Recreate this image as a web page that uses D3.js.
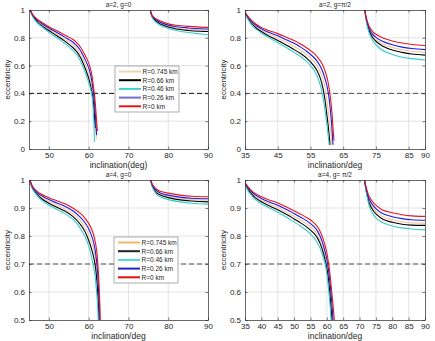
<!DOCTYPE html>
<html>
<head>
<meta charset="utf-8">
<script src="https://cdn.jsdelivr.net/npm/d3@7"></script>
<style>
  body { margin: 0; background: #fff; }
  svg { display: block; font-family: "Liberation Sans", Arial, sans-serif; }
</style>
</head>
<body>
<div id="container"></div>
<script>
/* DATA */
const seriesNames = ["R=0.745 km", "R=0.66 km", "R=0.46 km", "R=0.26 km", "R=0 km"];
const titles = ["a=2, g=0", "a=2, g=\u03c0/2", "a=4, g=0", "a=4, g= \u03c0/2"];
const xLabels = ["inclination(deg)", "inclination/deg", "inclination/deg", "inclination/deg"];
const yLabel = "eccentricity";
const dashLevels = [0.4, 0.4, 0.7, 0.7];

const xTicksLeft = [50, 60, 70, 80, 90];
const xTicksTR = [35, 45, 55, 65, 75, 85, 90];
const xTicksBR = [35, 40, 45, 50, 55, 60, 65, 70, 75, 80, 85, 90];
const yTicksTop = [0, 0.2, 0.4, 0.6, 0.8, 1];
const yTicksBottom = [0.5, 0.6, 0.7, 0.8, 0.9, 1];

// [inclination, eccentricity] per series, order as seriesNames
// a=2, g=0
const a2g0Left = [
  [[45.3,1],[46,0.957],[47,0.922],[48,0.9],[50,0.86],[52,0.825],[54,0.79],[56,0.75],[57,0.722],[58,0.68],[59,0.62],[60,0.55],[60.6,0.48],[61,0.41],[61.3,0.33],[61.6,0.22],[61.8,0.14],[61.9,0.07]],
  [[45.3,1],[46,0.954],[47,0.917],[48,0.89],[50,0.852],[52,0.815],[54,0.776],[56,0.73],[57,0.7],[58,0.655],[59,0.59],[60,0.51],[60.6,0.44],[61,0.38],[61.3,0.3],[61.5,0.22],[61.65,0.15]],
  [[45.3,1],[46,0.95],[47,0.91],[48,0.885],[50,0.84],[52,0.8],[54,0.76],[56,0.71],[57,0.68],[58,0.63],[59,0.56],[60,0.48],[60.5,0.43],[60.9,0.37],[61.1,0.3],[61.3,0.2],[61.4,0.12],[61.45,0.05]],
  [[45.3,1],[46,0.961],[47,0.929],[48,0.907],[50,0.87],[52,0.838],[54,0.805],[56,0.77],[57,0.743],[58,0.705],[59,0.65],[60,0.585],[60.6,0.52],[61,0.45],[61.3,0.38],[61.6,0.28],[61.8,0.19],[62,0.1]],
  [[45.3,1],[46,0.965],[47,0.935],[48,0.915],[50,0.88],[52,0.85],[54,0.82],[56,0.79],[57,0.765],[58,0.73],[59,0.68],[60,0.62],[60.7,0.55],[61.2,0.45],[61.5,0.38],[61.8,0.28],[62,0.2],[62.2,0.13]]
];
const a2g0Right = [
  [[75.5,1],[75.8,0.964],[76.3,0.94],[77,0.922],[78,0.905],[80,0.884],[82,0.871],[85,0.861],[88,0.856],[90,0.853]],
  [[75.5,1],[75.8,0.962],[76.3,0.936],[77,0.917],[78,0.899],[80,0.877],[82,0.863],[85,0.853],[88,0.847],[90,0.845]],
  [[75.5,1],[75.8,0.96],[76.3,0.93],[77,0.91],[78,0.89],[80,0.867],[82,0.852],[85,0.838],[88,0.828],[90,0.822]],
  [[75.5,1],[75.8,0.967],[76.3,0.945],[77,0.928],[78,0.912],[80,0.891],[82,0.88],[85,0.871],[88,0.865],[90,0.863]],
  [[75.5,1],[75.8,0.97],[76.3,0.95],[77,0.935],[78,0.92],[80,0.9],[82,0.89],[85,0.882],[88,0.877],[90,0.875]]
];
// a=2, g=pi/2
const a2g90Left = [
  [[35,0.98],[36,0.94],[37,0.91],[38,0.888],[40,0.855],[42,0.83],[45,0.797],[48,0.762],[50,0.737],[52,0.71],[54,0.675],[56,0.63],[57,0.6],[58,0.555],[59,0.49],[59.6,0.42],[60.2,0.32],[60.7,0.22],[61.2,0.12],[61.6,0.03]],
  [[35,0.978],[36,0.935],[37,0.902],[38,0.878],[40,0.845],[42,0.817],[45,0.781],[48,0.743],[50,0.715],[52,0.687],[54,0.65],[56,0.6],[57,0.565],[58,0.51],[58.8,0.44],[59.4,0.36],[59.9,0.27],[60.4,0.17],[60.8,0.08],[61,0.03]],
  [[35,0.975],[36,0.93],[37,0.895],[38,0.87],[40,0.835],[42,0.805],[45,0.765],[48,0.725],[50,0.695],[52,0.665],[54,0.625],[55,0.6],[56,0.57],[57,0.525],[58,0.46],[58.5,0.41],[59,0.35],[59.5,0.27],[60,0.18],[60.4,0.1],[60.7,0.03]],
  [[35,0.982],[36,0.945],[37,0.917],[38,0.896],[40,0.865],[42,0.842],[45,0.814],[48,0.782],[50,0.76],[52,0.733],[54,0.7],[56,0.66],[57,0.632],[58,0.595],[59,0.54],[60,0.46],[60.6,0.38],[61,0.3],[61.4,0.2],[61.7,0.1],[61.9,0.03]],
  [[35,0.985],[36,0.95],[37,0.925],[38,0.905],[40,0.875],[42,0.855],[45,0.83],[48,0.8],[50,0.78],[52,0.755],[54,0.725],[56,0.69],[57,0.665],[58,0.635],[59,0.59],[60,0.52],[60.7,0.44],[61.2,0.35],[61.6,0.25],[61.9,0.15],[62.2,0.06]]
];
const a2g90Right = [
  [[71.6,1],[72,0.94],[72.5,0.893],[73,0.857],[74,0.814],[75,0.789],[77,0.758],[80,0.731],[83,0.714],[86,0.703],[90,0.695]],
  [[71.6,1],[72,0.937],[72.5,0.885],[73,0.847],[74,0.802],[75,0.775],[77,0.741],[80,0.712],[83,0.695],[86,0.683],[90,0.675]],
  [[71.6,1],[72,0.93],[72.5,0.87],[73,0.83],[74,0.78],[75,0.75],[77,0.71],[80,0.68],[83,0.66],[86,0.65],[90,0.64]],
  [[71.6,1],[72,0.945],[72.5,0.9],[73,0.866],[74,0.826],[75,0.803],[77,0.775],[80,0.75],[83,0.733],[86,0.723],[90,0.715]],
  [[71.6,1],[72,0.95],[72.5,0.91],[73,0.88],[74,0.845],[75,0.825],[77,0.8],[80,0.777],[83,0.762],[86,0.752],[90,0.745]]
];
// a=4, g=0
const a4g0Left = [
  [[45.2,1],[46,0.97],[47,0.952],[48,0.94],[50,0.923],[52,0.91],[54,0.897],[56,0.88],[58,0.853],[59,0.833],[60,0.805],[61,0.765],[61.6,0.73],[62,0.69],[62.3,0.64],[62.5,0.58],[62.65,0.5]],
  [[45.2,1],[46,0.968],[47,0.949],[48,0.935],[50,0.917],[52,0.903],[54,0.889],[56,0.87],[58,0.84],[59,0.818],[60,0.785],[61,0.74],[61.6,0.7],[62,0.65],[62.3,0.59],[62.5,0.53],[62.55,0.5]],
  [[45.2,1],[46,0.965],[47,0.945],[48,0.93],[50,0.91],[52,0.895],[54,0.88],[56,0.86],[57,0.845],[58,0.825],[59,0.8],[60,0.765],[60.8,0.72],[61.5,0.67],[62,0.6],[62.3,0.54],[62.4,0.5]],
  [[45.2,1],[46,0.972],[47,0.956],[48,0.945],[50,0.93],[52,0.918],[54,0.906],[56,0.89],[58,0.866],[59,0.849],[60,0.826],[61,0.79],[61.5,0.76],[62,0.71],[62.3,0.66],[62.5,0.6],[62.7,0.55],[62.8,0.5]],
  [[45.2,1],[46,0.975],[47,0.96],[48,0.95],[50,0.937],[52,0.926],[54,0.915],[56,0.9],[58,0.88],[59,0.865],[60,0.845],[61,0.815],[61.5,0.79],[62,0.75],[62.3,0.7],[62.6,0.63],[62.8,0.56],[62.9,0.5]]
];
const a4g0Right = [
  [[75.6,1],[76,0.98],[76.5,0.968],[77,0.959],[78,0.95],[80,0.942],[83,0.934],[86,0.93],[90,0.928]],
  [[75.6,1],[76,0.978],[76.5,0.965],[77,0.955],[78,0.946],[80,0.937],[83,0.929],[86,0.925],[90,0.922]],
  [[75.6,1],[76,0.975],[76.5,0.96],[77,0.95],[78,0.94],[80,0.93],[83,0.922],[86,0.917],[90,0.914]],
  [[75.6,1],[76,0.982],[76.5,0.971],[77,0.963],[78,0.954],[80,0.946],[83,0.939],[86,0.935],[90,0.933]],
  [[75.6,1],[76,0.985],[76.5,0.975],[77,0.968],[78,0.96],[80,0.953],[83,0.946],[86,0.942],[90,0.94]]
];
// a=4, g=pi/2
const a4g90Left = [
  [[35,0.988],[36,0.968],[37,0.954],[38,0.943],[40,0.928],[42,0.917],[45,0.902],[48,0.884],[50,0.87],[52,0.857],[54,0.842],[56,0.822],[57,0.807],[58,0.785],[59,0.75],[60,0.7],[60.5,0.66],[61,0.605],[61.5,0.535],[61.7,0.5]],
  [[35,0.987],[36,0.965],[37,0.95],[38,0.938],[40,0.922],[42,0.91],[45,0.894],[48,0.875],[50,0.861],[52,0.847],[54,0.831],[56,0.81],[57,0.795],[58,0.772],[59,0.737],[60,0.685],[60.5,0.645],[61,0.585],[61.4,0.525],[61.55,0.5]],
  [[35,0.985],[36,0.96],[37,0.945],[38,0.932],[40,0.915],[42,0.903],[45,0.885],[48,0.865],[50,0.85],[52,0.835],[54,0.818],[55,0.807],[56,0.795],[57,0.778],[58,0.755],[59,0.72],[59.5,0.7],[60,0.665],[60.5,0.615],[61,0.55],[61.3,0.5]],
  [[35,0.989],[36,0.971],[37,0.958],[38,0.948],[40,0.934],[42,0.923],[45,0.91],[48,0.893],[50,0.88],[52,0.867],[54,0.853],[56,0.834],[57,0.82],[58,0.798],[59,0.765],[60,0.717],[60.5,0.68],[61,0.63],[61.5,0.565],[61.9,0.5]],
  [[35,0.99],[36,0.975],[37,0.962],[38,0.953],[40,0.94],[42,0.93],[45,0.918],[48,0.902],[50,0.89],[52,0.878],[54,0.865],[56,0.848],[57,0.835],[58,0.815],[59,0.785],[60,0.74],[60.5,0.705],[61,0.66],[61.5,0.6],[62,0.54],[62.3,0.5]]
];
const a4g90Right = [
  [[71.5,1],[72,0.967],[72.5,0.942],[73,0.923],[74,0.902],[75,0.888],[77,0.87],[80,0.858],[83,0.851],[86,0.847],[90,0.846]],
  [[71.5,1],[72,0.964],[72.5,0.937],[73,0.916],[74,0.894],[75,0.879],[77,0.861],[80,0.849],[83,0.842],[86,0.839],[90,0.838]],
  [[71.5,1],[72,0.96],[72.5,0.93],[73,0.905],[74,0.88],[75,0.865],[77,0.848],[80,0.836],[83,0.829],[86,0.825],[90,0.822]],
  [[71.5,1],[72,0.97],[72.5,0.947],[73,0.93],[74,0.911],[75,0.898],[77,0.88],[80,0.869],[83,0.862],[86,0.858],[90,0.856]],
  [[71.5,1],[72,0.975],[72.5,0.955],[73,0.94],[74,0.922],[75,0.91],[77,0.893],[80,0.883],[83,0.876],[86,0.872],[90,0.87]]
];

/* STYLE */
const colors = ["#f3c89c", "#000000", "#36cccc", "#1a1ae6", "#e6141e"];
const legendColorsTop = ["#f3d3b0", "#000000", "#40d0d0", "#6f6fd6", "#e6141e"];
const legendColorsBottom = ["#f0b868", "#222222", "#55d6d6", "#2020c8", "#e01010"];
const width = 435, height = 341;
const axisColor = "#262626";

const panels = [
  { left: 29, right: 208, top: 10, bottom: 149, xDomain: [45, 90], yDomain: [0, 1],
    xTicks: xTicksLeft, yTicks: yTicksTop, branches: [a2g0Left, a2g0Right],
    dashColor: "#111", legend: { x: 115, y: 66, colors: legendColorsTop } },
  { left: 245, right: 425, top: 10, bottom: 149, xDomain: [35, 90], yDomain: [0, 1],
    xTicks: xTicksTR, yTicks: yTicksTop, branches: [a2g90Left, a2g90Right],
    dashColor: "#555", legend: null },
  { left: 29, right: 208, top: 180, bottom: 320, xDomain: [45, 90], yDomain: [0.5, 1],
    xTicks: xTicksLeft, yTicks: yTicksBottom, branches: [a4g0Left, a4g0Right],
    dashColor: "#555", legend: { x: 114, y: 237, colors: legendColorsBottom } },
  { left: 245, right: 425, top: 180, bottom: 320, xDomain: [35, 90], yDomain: [0.5, 1],
    xTicks: xTicksBR, yTicks: yTicksBottom, branches: [a4g90Left, a4g90Right],
    dashColor: "#555", legend: null }
];

const svg = d3.select("#container")
  .append("svg")
  .attr("width", width)
  .attr("height", height)

panels.forEach((p, i) => {
  const x = d3.scaleLinear().domain(p.xDomain).range([p.left, p.right]);
  const y = d3.scaleLinear().domain(p.yDomain).range([p.bottom, p.top]);
  const g = svg.append("g");

  // clip for curves
  g.append("clipPath").attr("id", "clip" + i)
    .append("rect")
    .attr("x", p.left).attr("y", p.top)
    .attr("width", p.right - p.left).attr("height", p.bottom - p.top);

  // grid
  g.append("g").selectAll("line").data(p.xTicks.filter(d => d > p.xDomain[0] && d < p.xDomain[1]))
    .join("line")
    .attr("x1", d => x(d)).attr("x2", d => x(d))
    .attr("y1", p.top).attr("y2", p.bottom)
    .attr("stroke", "#dcdcdc").attr("stroke-width", 0.8);
  g.append("g").selectAll("line").data(p.yTicks.filter(d => d > p.yDomain[0] && d < p.yDomain[1]))
    .join("line")
    .attr("x1", p.left).attr("x2", p.right)
    .attr("y1", d => y(d)).attr("y2", d => y(d))
    .attr("stroke", "#dcdcdc").attr("stroke-width", 0.8);

  // dashed reference line
  g.append("line")
    .attr("x1", p.left).attr("x2", p.right)
    .attr("y1", y(dashLevels[i])).attr("y2", y(dashLevels[i]))
    .attr("stroke", p.dashColor).attr("stroke-width", 1)
    .attr("stroke-dasharray", "5,3");

  // curves
  const line = d3.line()
    .x(d => x(d[0])).y(d => y(d[1]))
    .curve(d3.curveCatmullRom.alpha(0.5));
  const curves = g.append("g").attr("clip-path", `url(#clip${i})`);
  p.branches.forEach(branch => {
    curves.selectAll(null).data(branch)
      .join("path")
      .attr("d", line)
      .attr("fill", "none")
      .attr("stroke", (d, k) => colors[k])
      .attr("stroke-width", 1.1);
  });

  // axes (ticks pointing inward)
  g.append("g")
    .attr("transform", `translate(0,${p.bottom})`)
    .call(d3.axisBottom(x).tickValues(p.xTicks).tickFormat(d3.format("d")).tickSizeInner(-2.5).tickSizeOuter(0).tickPadding(3));
  g.append("g")
    .attr("transform", `translate(${p.left},0)`)
    .call(d3.axisLeft(y).tickValues(p.yTicks).tickFormat(d => d3.format("")(+d.toFixed(1))).tickSizeInner(-2.5).tickSizeOuter(0).tickPadding(4));
  g.append("g")
    .attr("transform", `translate(0,${p.top})`)
    .call(d3.axisTop(x).tickValues(p.xTicks).tickFormat("").tickSizeInner(-2.5).tickSizeOuter(0));
  g.append("g")
    .attr("transform", `translate(${p.right},0)`)
    .call(d3.axisRight(y).tickValues(p.yTicks).tickFormat("").tickSizeInner(-2.5).tickSizeOuter(0));

  g.selectAll(".domain").attr("stroke", axisColor).attr("stroke-width", 0.7);
  g.selectAll(".tick line").attr("stroke", axisColor).attr("stroke-width", 0.6);
  g.selectAll(".tick text").attr("fill", axisColor).attr("font-size", 8)
    .attr("font-family", "'Liberation Sans', Arial, sans-serif");

  // labels
  const cx = (p.left + p.right) / 2;
  g.append("text")
    .attr("x", cx).attr("y", p.top - 3)
    .attr("text-anchor", "middle")
    .attr("font-size", 6.5).attr("fill", axisColor)
    .text(titles[i]);
  g.append("text")
    .attr("x", cx).attr("y", p.bottom + 18.5)
    .attr("text-anchor", "middle")
    .attr("font-size", 8.5).attr("fill", axisColor)
    .text(xLabels[i]);
  g.append("text")
    .attr("transform", `translate(${p.left - 19},${(p.top + p.bottom) / 2})rotate(-90)`)
    .attr("text-anchor", "middle")
    .attr("font-size", 8).attr("fill", axisColor)
    .text(yLabel);

  // legend
  if (p.legend) {
    const lg = g.append("g").attr("transform", `translate(${p.legend.x},${p.legend.y})`);
    lg.append("rect")
      .attr("width", 64).attr("height", 46)
      .attr("fill", "#fff").attr("stroke", "#8a8a8a").attr("stroke-width", 0.7);
    const rows = lg.selectAll("g.row").data(seriesNames)
      .join("g").attr("class", "row")
      .attr("transform", (d, k) => `translate(0,${5.5 + k * 8.7})`);
    rows.append("line")
      .attr("x1", 4).attr("x2", 26)
      .attr("stroke", (d, k) => p.legend.colors[k])
      .attr("stroke-width", 2);
    rows.append("text")
      .attr("x", 27.5).attr("y", 2.3)
      .attr("font-size", 6.5).attr("fill", axisColor)
      .text(d => d);
  }
});
</script>
</body>
</html>
